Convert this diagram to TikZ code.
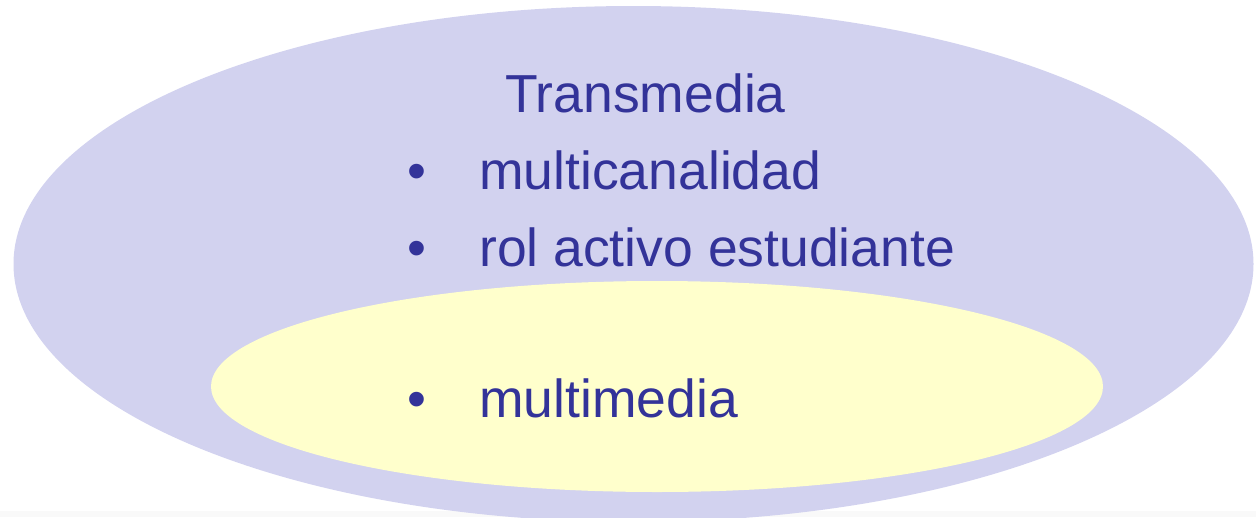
\documentclass[tikz,border=0pt]{standalone}
\usepackage{fontspec}
\setmainfont{Liberation Sans}
\definecolor{outerfill}{RGB}{210,210,239}
\definecolor{innerfill}{RGB}{255,255,204}
\definecolor{txt}{RGB}{51,51,153}
\definecolor{strip}{RGB}{249,249,249}
\begin{document}
\begin{tikzpicture}[x=1pt,y=-1pt,
  lbl/.style={anchor=base west,inner sep=0pt,text=txt,font=\fontsize{53.5}{60}\selectfont},
  bul/.style={anchor=base,inner sep=0pt,text=txt,font=\fontsize{54}{60}\selectfont}]
\useasboundingbox (0,0) rectangle (1256,517);
\clip (0,0) rectangle (1256,517);
\fill[strip] (0,511) rectangle (1256,517);
\fill[outerfill] (633.5,264) ellipse [x radius=620, y radius=258];
\fill[innerfill] (657,386.5) ellipse [x radius=446, y radius=105.5];
\node[lbl] (title) at (505,112) {Transmedia};
\node[bul] (b1) at (416.5,189) {•};
\node[lbl] (t1) at (479,189) {multicanalidad};
\node[bul] (b2) at (416.5,266) {•};
\node[lbl] (t2) at (479,266) {rol activo estudiante};
\node[bul] (b3) at (416.5,417) {•};
\node[lbl] (t3) at (479,417) {multimedia};
\end{tikzpicture}
\end{document}
